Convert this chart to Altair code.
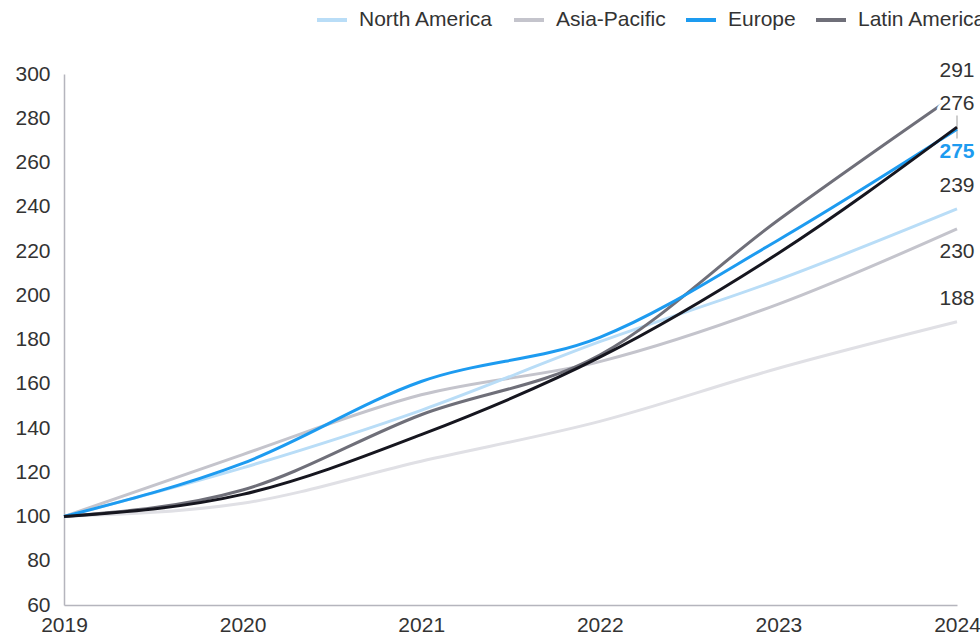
import altair as alt
import pandas as pd

YEARS = [2019, 2020, 2021, 2022, 2023, 2024]
SERIES = ["North America", "Asia-Pacific", "Europe", "Latin America", "Middle East", "Africa"]
NORTH_AMERICA = [100, 122, 148, 179, 207, 239]
ASIA_PACIFIC = [100, 128, 155, 170, 196, 230]
EUROPE = [100, 124, 161, 181, 225, 275]
LATIN_AMERICA = [100, 112, 146, 173, 234, 291]
MIDDLE_EAST = [100, 110, 137, 172, 219, 276]
AFRICA = [100, 106, 125, 143, 167, 188]
Y_TICKS = [60, 80, 100, 120, 140, 160, 180, 200, 220, 240, 260, 280, 300]

COLORS = ["#b9ddf7", "#c4c4cc", "#1d9bf0", "#6f6f79", "#16161f", "#e0e0e5"]
DRAW_ORDER = ["Africa", "Asia-Pacific", "North America", "Latin America", "Europe", "Middle East"]
LABEL_SIDE = {
    "Latin America": "above",
    "Middle East": "above",
    "Europe": "below",
    "North America": "above",
    "Asia-Pacific": "below",
    "Africa": "above",
}

values = {
    "North America": NORTH_AMERICA,
    "Asia-Pacific": ASIA_PACIFIC,
    "Europe": EUROPE,
    "Latin America": LATIN_AMERICA,
    "Middle East": MIDDLE_EAST,
    "Africa": AFRICA,
}

rows = []
for s in DRAW_ORDER:
    for yr, v in zip(YEARS, values[s]):
        rows.append({"series": s, "year": yr, "value": v})
df = pd.DataFrame(rows)

end_df = pd.DataFrame(
    [{"series": s, "year": YEARS[-1], "value": values[s][-1], "side": LABEL_SIDE[s]} for s in SERIES]
)

FONT = "Liberation Sans"
TXT = "#333333"
AXIS_COL = "#b5b5bd"

x_enc = alt.X(
    "year:Q",
    scale=alt.Scale(domain=[YEARS[0], YEARS[-1]], nice=False, zero=False),
    axis=alt.Axis(
        title=None, values=YEARS, format="d", ticks=False, grid=False,
        domainColor=AXIS_COL, domainWidth=1.5, labelFont=FONT, labelFontSize=21,
        labelColor=TXT, labelPadding=9, labelFlush=False, labelOverlap=False,
    ),
)
y_enc = alt.Y(
    "value:Q",
    scale=alt.Scale(domain=[60, 300], nice=False, zero=False),
    axis=alt.Axis(
        title=None, values=Y_TICKS, ticks=False, grid=False,
        domainColor=AXIS_COL, domainWidth=1.5, labelFont=FONT, labelFontSize=21,
        labelColor=TXT, labelPadding=14, labelFlush=False, labelOverlap=False,
    ),
)

tick = (
    alt.Chart(end_df)
    .transform_filter("datum.series == 'Middle East'")
    .mark_tick(orient="vertical", size=23, thickness=1.2, color="#8a8a8a")
    .encode(x=x_enc, y=y_enc)
)

lines = (
    alt.Chart(df)
    .mark_line(interpolate="monotone", strokeWidth=3)
    .encode(
        x=x_enc,
        y=y_enc,
        color=alt.Color(
            "series:N",
            scale=alt.Scale(domain=SERIES, range=COLORS),
            legend=alt.Legend(
                title=None, orient="none", legendX=251, legendY=-71,
                direction="horizontal", symbolType="stroke", symbolSize=900,
                symbolStrokeWidth=4, labelFontSize=21, labelFont=FONT,
                labelColor=TXT, labelOffset=10, columnPadding=12, padding=0,
                labelLimit=400,
            ),
        ),
    )
)


def label_layer(filter_expr, dy, color, weight, halo):
    props = dict(dy=dy, fontSize=21, font=FONT, color=color, fontWeight=weight,
                 align="center", baseline="middle")
    if halo:
        props.update(stroke="white", strokeWidth=7, strokeJoin="round")
    return (
        alt.Chart(end_df)
        .transform_filter(filter_expr)
        .mark_text(**props)
        .encode(x=x_enc, y=y_enc, text="value:Q")
    )


F_ABOVE = "datum.side == 'above'"
F_BELOW = "datum.side == 'below' && datum.series != 'Europe'"
F_EU = "datum.series == 'Europe'"

halos = [
    label_layer(F_ABOVE, -23, TXT, "normal", True),
    label_layer(F_BELOW, 23, TXT, "normal", True),
    label_layer(F_EU, 23, "#1d9bf0", "bold", True),
]
texts = [
    label_layer(F_ABOVE, -23, TXT, "normal", False),
    label_layer(F_BELOW, 23, TXT, "normal", False),
    label_layer(F_EU, 23, "#1d9bf0", "bold", False),
]

chart = (
    alt.layer(tick, lines, *halos, *texts)
    .properties(
        width=893,
        height=531,
        autosize=alt.AutoSizeParams(type="none"),
        padding={"left": 64, "top": 74, "right": 23, "bottom": 32},
        background="white",
    )
    .configure_view(stroke=None)
)

chart.save("out.html", embed_options={"renderer": "svg", "actions": False})
